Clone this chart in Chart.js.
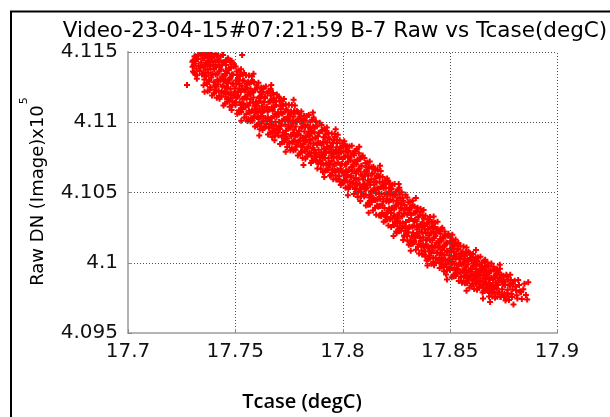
<!DOCTYPE html>
<html>
<head>
<meta charset="utf-8">
<script src="https://cdn.jsdelivr.net/npm/chart.js@4.4.1/dist/chart.umd.min.js"></script>
<style>
  html, body { margin: 0; padding: 0; background: #fff; }
  #wrap { width: 610px; height: 417px; position: relative; }
</style>
</head>
<body>
<div id="wrap"><canvas id="c" width="610" height="417"></canvas></div>
<script>
const chartTitle = 'Video-23-04-15#07:21:59 B-7 Raw vs Tcase(degC)';
const xTitle = 'Tcase (degC)';
const yTitle = 'Raw DN (Image)x10';
const yTitleExp = '5';
const xTicks = [17.7, 17.75, 17.8, 17.85, 17.9];
const yTicks = [4.095, 4.1, 4.105, 4.11, 4.115];

// Case temperature (degC) of each frame
const tcase = [
  17.7275, 17.7301, 17.7304, 17.7308, 17.7312, 17.7315, 17.7319, 17.7322, 17.7326, 17.7330, 17.7334, 17.7337, 17.7341, 17.7345, 17.7348,
  17.7351, 17.7353, 17.7355, 17.7356, 17.7358, 17.7361, 17.7363, 17.7364, 17.7366, 17.7369, 17.7371, 17.7372, 17.7374, 17.7377, 17.7379, 17.7381, 17.7383, 17.7385, 17.7388, 17.7391, 17.7394, 17.7397,
  17.7400, 17.7402, 17.7404, 17.7407, 17.7409, 17.7410, 17.7412, 17.7415, 17.7417, 17.7418, 17.7420, 17.7423, 17.7425, 17.7426, 17.7428, 17.7430, 17.7434, 17.7436, 17.7439, 17.7442, 17.7445, 17.7448,
  17.7451, 17.7452, 17.7455, 17.7457, 17.7459, 17.7462, 17.7463, 17.7466, 17.7468, 17.7470, 17.7472, 17.7474, 17.7477, 17.7478, 17.7481, 17.7482, 17.7485, 17.7487, 17.7490, 17.7493, 17.7496, 17.7499, 17.7467, 17.7483,
  17.7500, 17.7503, 17.7504, 17.7506, 17.7508, 17.7510, 17.7514, 17.7515, 17.7517, 17.7519, 17.7521, 17.7523, 17.7526, 17.7529, 17.7530, 17.7533, 17.7536, 17.7538, 17.7541, 17.7543, 17.7545, 17.7548, 17.7532,
  17.7551, 17.7553, 17.7555, 17.7556, 17.7558, 17.7561, 17.7563, 17.7564, 17.7566, 17.7569, 17.7571, 17.7572, 17.7574, 17.7577, 17.7579, 17.7581, 17.7583, 17.7585, 17.7588, 17.7591, 17.7594, 17.7597,
  17.7600, 17.7602, 17.7604, 17.7607, 17.7609, 17.7610, 17.7612, 17.7615, 17.7617, 17.7618, 17.7620, 17.7623, 17.7625, 17.7626, 17.7628, 17.7630, 17.7634, 17.7636, 17.7639, 17.7642, 17.7645, 17.7648,
  17.7651, 17.7652, 17.7655, 17.7657, 17.7659, 17.7662, 17.7663, 17.7666, 17.7668, 17.7670, 17.7672, 17.7674, 17.7677, 17.7678, 17.7681, 17.7682, 17.7685, 17.7687, 17.7690, 17.7693, 17.7696, 17.7699,
  17.7700, 17.7703, 17.7704, 17.7706, 17.7708, 17.7710, 17.7714, 17.7715, 17.7717, 17.7719, 17.7721, 17.7723, 17.7726, 17.7729, 17.7730, 17.7733, 17.7736, 17.7738, 17.7741, 17.7743, 17.7745, 17.7748,
  17.7750, 17.7752, 17.7753, 17.7756, 17.7759, 17.7761, 17.7762, 17.7764, 17.7767, 17.7770, 17.7772, 17.7773, 17.7775, 17.7778, 17.7780, 17.7782, 17.7785, 17.7787, 17.7789, 17.7792, 17.7794, 17.7797,
  17.7801, 17.7804, 17.7805, 17.7807, 17.7808, 17.7811, 17.7813, 17.7816, 17.7818, 17.7819, 17.7822, 17.7824, 17.7826, 17.7827, 17.7830, 17.7833, 17.7834, 17.7837, 17.7840, 17.7841, 17.7845, 17.7848,
  17.7850, 17.7851, 17.7854, 17.7856, 17.7858, 17.7860, 17.7863, 17.7865, 17.7866, 17.7869, 17.7871, 17.7874, 17.7876, 17.7878, 17.7881, 17.7883, 17.7886, 17.7888, 17.7890, 17.7893, 17.7896, 17.7899,
  17.7902, 17.7903, 17.7905, 17.7908, 17.7910, 17.7911, 17.7914, 17.7916, 17.7919, 17.7920, 17.7923, 17.7925, 17.7927, 17.7929, 17.7932, 17.7934, 17.7935, 17.7938, 17.7941, 17.7944, 17.7946, 17.7948,
  17.7950, 17.7952, 17.7953, 17.7956, 17.7959, 17.7961, 17.7962, 17.7964, 17.7967, 17.7970, 17.7972, 17.7973, 17.7975, 17.7978, 17.7980, 17.7982, 17.7985, 17.7987, 17.7989, 17.7992, 17.7994, 17.7997,
  17.8001, 17.8004, 17.8005, 17.8007, 17.8008, 17.8011, 17.8013, 17.8016, 17.8018, 17.8019, 17.8022, 17.8024, 17.8026, 17.8027, 17.8030, 17.8033, 17.8034, 17.8037, 17.8040, 17.8041, 17.8045, 17.8048,
  17.8050, 17.8051, 17.8054, 17.8056, 17.8058, 17.8060, 17.8063, 17.8065, 17.8066, 17.8069, 17.8071, 17.8074, 17.8076, 17.8078, 17.8081, 17.8083, 17.8086, 17.8088, 17.8090, 17.8093, 17.8096, 17.8099,
  17.8102, 17.8103, 17.8105, 17.8108, 17.8110, 17.8111, 17.8114, 17.8116, 17.8119, 17.8120, 17.8123, 17.8125, 17.8127, 17.8129, 17.8132, 17.8134, 17.8135, 17.8138, 17.8141, 17.8144, 17.8146, 17.8148,
  17.8150, 17.8152, 17.8153, 17.8156, 17.8159, 17.8161, 17.8162, 17.8164, 17.8167, 17.8170, 17.8172, 17.8173, 17.8175, 17.8178, 17.8180, 17.8182, 17.8185, 17.8187, 17.8189, 17.8192, 17.8194, 17.8197,
  17.8201, 17.8204, 17.8205, 17.8207, 17.8208, 17.8211, 17.8213, 17.8216, 17.8218, 17.8219, 17.8222, 17.8224, 17.8226, 17.8227, 17.8230, 17.8233, 17.8234, 17.8237, 17.8240, 17.8241, 17.8245, 17.8248,
  17.8250, 17.8251, 17.8254, 17.8256, 17.8258, 17.8260, 17.8263, 17.8265, 17.8266, 17.8269, 17.8271, 17.8274, 17.8276, 17.8278, 17.8281, 17.8283, 17.8286, 17.8288, 17.8290, 17.8293, 17.8296, 17.8299,
  17.8302, 17.8303, 17.8305, 17.8308, 17.8310, 17.8311, 17.8314, 17.8316, 17.8319, 17.8320, 17.8323, 17.8325, 17.8327, 17.8329, 17.8332, 17.8334, 17.8335, 17.8338, 17.8341, 17.8344, 17.8346, 17.8348,
  17.8350, 17.8353, 17.8354, 17.8356, 17.8358, 17.8360, 17.8364, 17.8365, 17.8367, 17.8369, 17.8371, 17.8373, 17.8376, 17.8379, 17.8380, 17.8383, 17.8386, 17.8388, 17.8391, 17.8393, 17.8395, 17.8398,
  17.8401, 17.8403, 17.8405, 17.8406, 17.8408, 17.8411, 17.8413, 17.8414, 17.8416, 17.8419, 17.8421, 17.8422, 17.8424, 17.8427, 17.8429, 17.8431, 17.8433, 17.8435, 17.8438, 17.8441, 17.8444, 17.8447,
  17.8450, 17.8452, 17.8454, 17.8457, 17.8459, 17.8460, 17.8462, 17.8465, 17.8467, 17.8468, 17.8470, 17.8473, 17.8475, 17.8476, 17.8478, 17.8480, 17.8484, 17.8486, 17.8489, 17.8492, 17.8495, 17.8498,
  17.8501, 17.8502, 17.8505, 17.8507, 17.8509, 17.8512, 17.8513, 17.8516, 17.8518, 17.8520, 17.8522, 17.8524, 17.8527, 17.8528, 17.8531, 17.8532, 17.8535, 17.8537, 17.8540, 17.8543, 17.8546, 17.8549,
  17.8550, 17.8553, 17.8554, 17.8556, 17.8558, 17.8560, 17.8564, 17.8565, 17.8567, 17.8569, 17.8571, 17.8573, 17.8576, 17.8579, 17.8580, 17.8583, 17.8586, 17.8588, 17.8591, 17.8593, 17.8595, 17.8598,
  17.8600, 17.8602, 17.8603, 17.8606, 17.8609, 17.8611, 17.8612, 17.8614, 17.8617, 17.8620, 17.8622, 17.8623, 17.8625, 17.8628, 17.8630, 17.8632, 17.8635, 17.8637, 17.8639, 17.8642, 17.8644, 17.8647,
  17.8651, 17.8654, 17.8655, 17.8657, 17.8658, 17.8661, 17.8663, 17.8666, 17.8668, 17.8669, 17.8672, 17.8674, 17.8676, 17.8677, 17.8680, 17.8683, 17.8684, 17.8687, 17.8690, 17.8691, 17.8695, 17.8698,
  17.8700, 17.8702, 17.8704, 17.8707, 17.8709, 17.8712, 17.8714, 17.8717, 17.8719, 17.8722, 17.8725, 17.8727, 17.8730, 17.8733, 17.8736, 17.8740, 17.8744, 17.8748,
  17.8751, 17.8755, 17.8758, 17.8762, 17.8766, 17.8770, 17.8774, 17.8778, 17.8782, 17.8787, 17.8792, 17.8797,
  17.8806, 17.8812, 17.8819, 17.8827, 17.8836, 17.8848, 17.8861, 17.8866, 17.8688,
  // second acquisition pass
  17.7300, 17.7303, 17.7306, 17.7310, 17.7314, 17.7317, 17.7321, 17.7328, 17.7339, 17.7346,
  17.7350, 17.7352, 17.7354, 17.7357, 17.7360, 17.7362, 17.7364, 17.7367, 17.7369, 17.7371, 17.7374, 17.7376, 17.7378, 17.7381, 17.7383, 17.7385, 17.7387, 17.7390, 17.7392, 17.7394,
  17.7401, 17.7403, 17.7406, 17.7408, 17.7409, 17.7411, 17.7414, 17.7416, 17.7418, 17.7421, 17.7423, 17.7424, 17.7427, 17.7429, 17.7431, 17.7432, 17.7435, 17.7438, 17.7440, 17.7443, 17.7445, 17.7447,
  17.7450, 17.7453, 17.7455, 17.7456, 17.7459, 17.7461, 17.7463, 17.7465, 17.7468, 17.7470, 17.7473, 17.7475, 17.7476, 17.7479, 17.7480, 17.7483, 17.7486, 17.7487, 17.7489, 17.7492, 17.7494, 17.7497,
  17.7501, 17.7502, 17.7504, 17.7507, 17.7509, 17.7512, 17.7513, 17.7516, 17.7519, 17.7520, 17.7522, 17.7525, 17.7527, 17.7528, 17.7531, 17.7534, 17.7535, 17.7537, 17.7540, 17.7542, 17.7546, 17.7548,
  17.7550, 17.7552, 17.7554, 17.7557, 17.7560, 17.7562, 17.7564, 17.7567, 17.7569, 17.7571, 17.7574, 17.7576, 17.7578, 17.7581, 17.7583, 17.7585, 17.7587, 17.7590, 17.7592, 17.7594, 17.7596, 17.7599,
  17.7601, 17.7603, 17.7606, 17.7608, 17.7609, 17.7611, 17.7614, 17.7616, 17.7618, 17.7621, 17.7623, 17.7624, 17.7627, 17.7629, 17.7631, 17.7632, 17.7635, 17.7638, 17.7640, 17.7643, 17.7645, 17.7647,
  17.7650, 17.7653, 17.7655, 17.7656, 17.7659, 17.7661, 17.7663, 17.7665, 17.7668, 17.7670, 17.7673, 17.7675, 17.7676, 17.7679, 17.7680, 17.7683, 17.7686, 17.7687, 17.7689, 17.7692, 17.7694, 17.7697,
  17.7701, 17.7702, 17.7704, 17.7707, 17.7709, 17.7712, 17.7713, 17.7716, 17.7719, 17.7720, 17.7722, 17.7725, 17.7727, 17.7728, 17.7731, 17.7734, 17.7735, 17.7737, 17.7740, 17.7742, 17.7746, 17.7748,
  17.7750, 17.7752, 17.7754, 17.7757, 17.7760, 17.7762, 17.7764, 17.7767, 17.7769, 17.7771, 17.7774, 17.7776, 17.7778, 17.7781, 17.7783, 17.7785, 17.7787, 17.7790, 17.7792, 17.7794, 17.7796, 17.7799,
  17.7801, 17.7803, 17.7806, 17.7808, 17.7809, 17.7811, 17.7814, 17.7816, 17.7818, 17.7821, 17.7823, 17.7824, 17.7827, 17.7829, 17.7831, 17.7832, 17.7835, 17.7838, 17.7840, 17.7843, 17.7845, 17.7847,
  17.7850, 17.7853, 17.7855, 17.7856, 17.7859, 17.7861, 17.7863, 17.7865, 17.7868, 17.7870, 17.7873, 17.7875, 17.7876, 17.7879, 17.7880, 17.7883, 17.7886, 17.7887, 17.7889, 17.7892, 17.7894, 17.7897,
  17.7901, 17.7902, 17.7904, 17.7907, 17.7909, 17.7912, 17.7913, 17.7916, 17.7919, 17.7920, 17.7922, 17.7925, 17.7927, 17.7928, 17.7931, 17.7934, 17.7935, 17.7937, 17.7940, 17.7942, 17.7946, 17.7948,
  17.7950, 17.7952, 17.7954, 17.7957, 17.7960, 17.7962, 17.7964, 17.7967, 17.7969, 17.7971, 17.7974, 17.7976, 17.7978, 17.7981, 17.7983, 17.7985, 17.7987, 17.7990, 17.7992, 17.7994, 17.7996, 17.7999,
  17.8001, 17.8003, 17.8006, 17.8008, 17.8009, 17.8011, 17.8014, 17.8016, 17.8018, 17.8021, 17.8023, 17.8024, 17.8027, 17.8029, 17.8031, 17.8032, 17.8035, 17.8038, 17.8040, 17.8043, 17.8045, 17.8047,
  17.8050, 17.8053, 17.8055, 17.8056, 17.8059, 17.8061, 17.8063, 17.8065, 17.8068, 17.8070, 17.8073, 17.8075, 17.8076, 17.8079, 17.8080, 17.8083, 17.8086, 17.8087, 17.8089, 17.8092, 17.8094, 17.8097,
  17.8101, 17.8102, 17.8104, 17.8107, 17.8109, 17.8112, 17.8113, 17.8116, 17.8119, 17.8120, 17.8122, 17.8125, 17.8127, 17.8128, 17.8131, 17.8134, 17.8135, 17.8137, 17.8140, 17.8142, 17.8146, 17.8148,
  17.8150, 17.8152, 17.8154, 17.8157, 17.8160, 17.8162, 17.8164, 17.8167, 17.8169, 17.8171, 17.8174, 17.8176, 17.8178, 17.8181, 17.8183, 17.8185, 17.8187, 17.8190, 17.8192, 17.8194, 17.8196, 17.8199,
  17.8201, 17.8203, 17.8206, 17.8208, 17.8209, 17.8211, 17.8214, 17.8216, 17.8218, 17.8221, 17.8223, 17.8224, 17.8227, 17.8229, 17.8231, 17.8232, 17.8235, 17.8238, 17.8240, 17.8243, 17.8245, 17.8247,
  17.8250, 17.8253, 17.8255, 17.8256, 17.8259, 17.8261, 17.8263, 17.8265, 17.8268, 17.8270, 17.8273, 17.8275, 17.8276, 17.8279, 17.8280, 17.8283, 17.8286, 17.8287, 17.8289, 17.8292, 17.8294, 17.8297,
  17.8301, 17.8302, 17.8304, 17.8307, 17.8309, 17.8312, 17.8313, 17.8316, 17.8319, 17.8320, 17.8322, 17.8325, 17.8327, 17.8328, 17.8331, 17.8334, 17.8335, 17.8337, 17.8340, 17.8342, 17.8346, 17.8348,
  17.8350, 17.8352, 17.8354, 17.8357, 17.8360, 17.8362, 17.8364, 17.8367, 17.8369, 17.8371, 17.8374, 17.8376, 17.8378, 17.8381, 17.8383, 17.8385, 17.8387, 17.8390, 17.8392, 17.8394, 17.8396, 17.8399,
  17.8401, 17.8403, 17.8406, 17.8408, 17.8409, 17.8411, 17.8414, 17.8416, 17.8418, 17.8421, 17.8423, 17.8424, 17.8427, 17.8429, 17.8431, 17.8432, 17.8435, 17.8438, 17.8440, 17.8443, 17.8445, 17.8447,
  17.8450, 17.8453, 17.8455, 17.8456, 17.8459, 17.8461, 17.8463, 17.8465, 17.8468, 17.8470, 17.8473, 17.8475, 17.8476, 17.8479, 17.8480, 17.8483, 17.8486, 17.8487, 17.8489, 17.8492, 17.8494, 17.8497,
  17.8501, 17.8502, 17.8504, 17.8507, 17.8509, 17.8512, 17.8513, 17.8516, 17.8519, 17.8520, 17.8522, 17.8525, 17.8527, 17.8528, 17.8531, 17.8534, 17.8535, 17.8537, 17.8540, 17.8542, 17.8546, 17.8548,
  17.8550, 17.8552, 17.8554, 17.8557, 17.8560, 17.8562, 17.8564, 17.8567, 17.8569, 17.8571, 17.8574, 17.8576, 17.8578, 17.8581, 17.8583, 17.8585, 17.8587, 17.8590, 17.8592, 17.8594, 17.8596, 17.8599,
  17.8601, 17.8603, 17.8606, 17.8608, 17.8609, 17.8611, 17.8614, 17.8616, 17.8618, 17.8621, 17.8623, 17.8624, 17.8627, 17.8629, 17.8631, 17.8632, 17.8635, 17.8638, 17.8640, 17.8643, 17.8645, 17.8647,
  17.8650, 17.8653, 17.8655, 17.8656, 17.8659, 17.8661, 17.8663, 17.8665, 17.8668, 17.8670, 17.8673, 17.8675, 17.8676, 17.8679, 17.8680, 17.8683, 17.8686, 17.8687, 17.8689, 17.8692, 17.8694, 17.8697,
  17.8701, 17.8704, 17.8706, 17.8709, 17.8711, 17.8714, 17.8716, 17.8719, 17.8722, 17.8724, 17.8728, 17.8731, 17.8734, 17.8738, 17.8742, 17.8746,
  17.8750, 17.8753, 17.8757, 17.8760, 17.8764, 17.8768, 17.8772, 17.8776, 17.8781, 17.8785, 17.8790, 17.8795,
  17.8803, 17.8809, 17.8815, 17.8823, 17.8832, 17.8843, 17.8855,
  // scattered frames along the edges of the band
  17.7445, 17.7528, 17.7585, 17.7612, 17.7668, 17.7735, 17.7772, 17.7818, 17.7862, 17.7915, 17.7968, 17.8025, 17.8078, 17.8122,
  17.8175, 17.8238, 17.8262, 17.8318, 17.8342, 17.8396, 17.8425, 17.8487, 17.8512, 17.8578, 17.8622, 17.8733, 17.8655
];

// Raw detector counts (DN) of each frame, same order as tcase
const rawDN = [
  411265, 411395, 411440, 411352, 411418, 411470, 411380, 411335, 411450, 411402, 411365, 411485, 411425, 411340, 411455,
  411399, 411352, 411456, 411304, 411408, 411376, 411488, 411326, 411423, 411273, 411377, 411436, 411353, 411459, 411300, 411401, 411247, 411381, 411319, 411437, 411347, 411407,
  411285, 411378, 411233, 411431, 411340, 411392, 411252, 411473, 411303, 411345, 411271, 411432, 411187, 411363, 411394, 411302, 411376, 411217, 411328, 411261, 411425, 411292,
  411344, 411213, 411301, 411407, 411251, 411166, 411350, 411279, 411370, 411204, 411302, 411111, 411318, 411238, 411393, 411204, 411340, 411148, 411270, 411396, 411205, 411241, 411452, 411438,
  411218, 411297, 411141, 411271, 411336, 411179, 411217, 411301, 411086, 411241, 411142, 411340, 411215, 411096, 411259, 411168, 411298, 411133, 411350, 411175, 411224, 411107, 411478,
  411247, 411167, 411274, 411123, 411196, 411023, 411212, 411082, 411277, 411139, 411238, 411164, 411029, 411210, 411086, 411291, 411141, 411176, 411041, 411228, 411092, 411145,
  411120, 411248, 411078, 411139, 411023, 411177, 411097, 411184, 411149, 410971, 411211, 411044, 411114, 411070, 411236, 411008, 411142, 411087, 411173, 410968, 411108, 411010,
  411077, 411036, 411221, 411089, 410961, 411147, 411006, 411191, 411031, 411107, 410895, 411081, 410978, 411141, 411043, 411110, 410921, 411001, 411151, 411040, 410945, 411072,
  410945, 411056, 411003, 411174, 410952, 411113, 410975, 411062, 410896, 411010, 411129, 410927, 411021, 410861, 411073, 410984, 410939, 411092, 411022, 410887, 411040, 410955,
  411008, 410855, 411043, 410960, 411068, 410903, 410977, 410815, 411015, 410925, 411041, 410868, 410947, 411070, 410898, 410969, 410841, 411002, 410919, 411073, 410860, 410937,
  410872, 411017, 410906, 410791, 410960, 410989, 410824, 410888, 411024, 410846, 410934, 410796, 410967, 410859, 410901, 411044, 410814, 410907, 410770, 410933, 410874, 410961,
  410955, 410848, 410779, 410922, 410726, 410882, 410970, 410805, 410848, 410928, 410756, 410889, 410783, 410976, 410840, 410719, 410900, 410804, 410926, 410753, 410853, 410669,
  410786, 410837, 410937, 410742, 410860, 410697, 410809, 410894, 410746, 410940, 410781, 410704, 410824, 410855, 410660, 410889, 410743, 410791, 410698, 410831, 410625, 410807,
  410725, 410780, 410665, 410851, 410752, 410788, 410690, 410895, 410621, 410803, 410822, 410748, 410852, 410714, 410778, 410647, 410751, 410579, 410822, 410669, 410785, 410703,
  410739, 410640, 410793, 410589, 410753, 410697, 410834, 410606, 410703, 410659, 410791, 410624, 410721, 410543, 410659, 410745, 410576, 410729, 410619, 410682, 410651, 410777,
  410570, 410699, 410765, 410654, 410525, 410604, 410636, 410701, 410562, 410722, 410468, 410652, 410593, 410669, 410557, 410742, 410500, 410688, 410751, 410617, 410595, 410551,
  410647, 410564, 410621, 410484, 410526, 410680, 410648, 410560, 410585, 410427, 410683, 410480, 410440, 410553, 410509, 410594, 410476, 410635, 410515, 410683, 410446, 410557,
  410529, 410446, 410656, 410495, 410571, 410406, 410529, 410453, 410619, 410489, 410405, 410576, 410455, 410538, 410332, 410489, 410410, 410570, 410456, 410532, 410340, 410487,
  410533, 410438, 410492, 410325, 410458, 410358, 410584, 410434, 410386, 410491, 410314, 410447, 410354, 410529, 410387, 410316, 410477, 410441, 410267, 410379, 410483, 410331,
  410223, 410403, 410295, 410463, 410336, 410427, 410239, 410355, 410487, 410287, 410389, 410248, 410416, 410330, 410282, 410442, 410347, 410186, 410377, 410228, 410290, 410391,
  410342, 410157, 410357, 410217, 410304, 410252, 410392, 410158, 410346, 410312, 410186, 410257, 410410, 410213, 410353, 410263, 410146, 410304, 410180, 410368, 410262, 410208,
  410254, 410193, 410325, 410132, 410261, 410221, 410363, 410155, 410274, 410087, 410217, 410287, 410182, 410313, 410114, 410239, 410044, 410211, 410132, 410279, 410167, 410241,
  410104, 410196, 410051, 410251, 410160, 410209, 410069, 410292, 410122, 410161, 410087, 410249, 410005, 410178, 410208, 410116, 410191, 410033, 410143, 410075, 410240, 410106,
  410152, 410033, 410113, 410207, 410067, 409992, 410156, 410091, 410174, 410025, 410112, 409939, 410126, 410055, 410194, 410023, 410144, 409970, 410080, 410193, 410020, 410052,
  410030, 410099, 409964, 410075, 410130, 409995, 410029, 410099, 409916, 410048, 409963, 410131, 410025, 409926, 410062, 409986, 410097, 409957, 410140, 409990, 410031, 409931,
  410024, 409901, 410051, 409985, 410072, 409939, 409996, 409867, 410028, 409956, 410048, 409909, 409971, 410068, 409931, 409987, 409884, 410013, 409945, 410069, 409898, 409959,
  409911, 410020, 409937, 409850, 409974, 409997, 409874, 409922, 410024, 409888, 409955, 409852, 409980, 409897, 409929, 410037, 409863, 409933, 409831, 409952, 409909, 409974,
  409965, 409886, 409838, 409941, 409800, 409912, 409976, 409856, 409886, 409946, 409820, 409917, 409840, 409980, 409882, 409794, 409926, 409856, 409944, 409820, 409891, 409759,
  409844, 409880, 409950, 409814, 409896, 409781, 409860, 409920, 409817, 409952, 409841, 409788, 409871, 409892, 409756, 409915, 409812, 409845,
  409877, 409780, 409842, 409743, 409901, 409807, 409759, 409847, 409915, 409777, 409809, 409702,
  409830, 409768, 409878, 409795, 409742, 409851, 409738, 409862, 409721,
  // second acquisition pass
  411430, 411362, 411405, 411468, 411338, 411447, 411310, 411478, 411392, 411490,
  411482, 411264, 411475, 411217, 411489, 411330, 411470, 411280, 411412, 411220, 411494, 411292, 411478, 411228, 411431, 411250, 411486, 411334, 411191, 411455,
  411206, 411470, 411262, 411488, 411217, 411397, 411175, 411439, 411295, 411472, 411222, 411407, 411167, 411439, 411303, 411470, 411184, 411405, 411253, 411478, 411209, 411329,
  411428, 411134, 411364, 411181, 411441, 411239, 411146, 411456, 411202, 411382, 411152, 411310, 411427, 411173, 411388, 411088, 411275, 411122, 411339, 411188, 411413, 411140,
  411121, 411396, 411174, 411362, 411060, 411309, 411190, 411368, 411069, 411276, 411330, 411122, 411378, 411073, 411236, 411093, 411339, 411127, 411296, 411034, 411237, 411179,
  411335, 411058, 411269, 411009, 411286, 411120, 411332, 411068, 411199, 411007, 411287, 411076, 411326, 411011, 411213, 411031, 411286, 411113, 410969, 411233, 411068, 411263,
  410981, 411245, 411038, 411282, 410993, 411172, 410950, 411215, 411071, 411248, 410998, 411183, 410944, 411216, 411079, 411246, 410961, 411182, 411030, 411255, 410987, 411107,
  411206, 410913, 411143, 410960, 411221, 411018, 410926, 411236, 410983, 411163, 410934, 411092, 411209, 410956, 411170, 410871, 411058, 410905, 411123, 410972, 411198, 410925,
  410906, 411181, 410959, 411148, 410846, 411095, 410976, 411155, 410856, 411063, 411117, 410910, 411166, 410861, 411024, 410881, 411128, 410916, 411085, 410823, 411027, 410969,
  411125, 410848, 411059, 410800, 411077, 410911, 411123, 410860, 410991, 410799, 411079, 410869, 411119, 410804, 411006, 410825, 411080, 410907, 410763, 411027, 410863, 411058,
  410776, 411040, 410833, 411077, 410788, 410968, 410746, 411011, 410867, 411044, 410794, 410979, 410740, 411012, 410876, 411043, 410758, 410979, 410827, 411052, 410784, 410904,
  411003, 410710, 410940, 410757, 411018, 410816, 410724, 411034, 410781, 410961, 410732, 410890, 411007, 410754, 410969, 410670, 410857, 410704, 410922, 410771, 410997, 410724,
  410706, 410981, 410759, 410947, 410645, 410894, 410775, 410953, 410654, 410861, 410915, 410707, 410963, 410658, 410821, 410678, 410924, 410712, 410881, 410619, 410822, 410764,
  410920, 410643, 410854, 410594, 410871, 410705, 410917, 410653, 410784, 410592, 410872, 410661, 410911, 410596, 410798, 410616, 410871, 410698, 410554, 410818, 410653, 410848,
  410566, 410829, 410622, 410865, 410576, 410756, 410533, 410798, 410653, 410830, 410579, 410764, 410525, 410796, 410660, 410827, 410541, 410761, 410609, 410833, 410565, 410685,
  410783, 410489, 410718, 410535, 410795, 410593, 410500, 410809, 410556, 410735, 410505, 410662, 410779, 410525, 410740, 410440, 410626, 410473, 410690, 410538, 410764, 410490,
  410471, 410745, 410522, 410710, 410407, 410655, 410536, 410714, 410413, 410620, 410673, 410465, 410720, 410415, 410577, 410432, 410679, 410466, 410634, 410371, 410574, 410515,
  410670, 410392, 410602, 410342, 410618, 410451, 410662, 410398, 410528, 410336, 410614, 410404, 410653, 410337, 410538, 410356, 410610, 410436, 410291, 410554, 410390, 410583,
  410301, 410564, 410356, 410599, 410309, 410489, 410265, 410530, 410385, 410561, 410310, 410494, 410254, 410525, 410389, 410555, 410269, 410489, 410336, 410560, 410291, 410410,
  410508, 410214, 410443, 410260, 410519, 410317, 410224, 410533, 410279, 410458, 410228, 410385, 410502, 410247, 410462, 410162, 410348, 410194, 410411, 410259, 410484, 410210,
  410191, 410465, 410243, 410430, 410128, 410376, 410256, 410434, 410134, 410341, 410394, 410186, 410441, 410136, 410298, 410154, 410400, 410188, 410356, 410093, 410295, 410237,
  410392, 410114, 410325, 410065, 410341, 410174, 410385, 410121, 410252, 410059, 410338, 410127, 410376, 410060, 410262, 410080, 410334, 410160, 410016, 410279, 410114, 410308,
  410026, 410289, 410081, 410325, 410036, 410215, 409992, 410257, 410112, 410289, 410038, 410223, 409983, 410254, 410118, 410285, 409999, 410219, 410067, 410291, 410022, 410142,
  410227, 409962, 410169, 410004, 410238, 410055, 409972, 410250, 410022, 410182, 409975, 410117, 410222, 409993, 410187, 409916, 410083, 409945, 410141, 410004, 410206, 409960,
  409949, 410182, 409993, 410154, 409896, 410108, 410005, 410157, 409902, 410078, 410124, 409947, 410165, 409905, 410044, 409921, 410131, 409951, 410093, 409870, 410043, 409993,
  410118, 409896, 410064, 409857, 410078, 409944, 410115, 409904, 410008, 409854, 410077, 409909, 410109, 409856, 410017, 409872, 410076, 409938, 409822, 410033, 409901, 410057,
  409838, 410036, 409880, 410063, 409846, 409982, 409814, 410014, 409905, 410037, 409850, 409989, 409808, 410013, 409910, 410036, 409822, 409987, 409872, 410042, 409840, 409931,
  410000, 409789, 409954, 409822, 410010, 409865, 409799, 410022, 409839, 409969, 409805, 409918, 410002, 409820, 409974, 409759, 409894, 409784, 409940, 409831, 409995, 409797,
  409789, 409972, 409826, 409952, 409751, 409913, 409840, 409954, 409758, 409890, 409930, 409788, 409958, 409756, 409863, 409771,
  409908, 409761, 409864, 409732, 409915, 409783, 409881, 409735, 409836, 409878, 409756, 409853,
  409872, 409805, 409746, 409842, 409790, 409812, 409770,
  // scattered frames along the edges of the band
  411120, 411010, 411345, 410905, 411265, 410790, 411160, 410695, 411070, 410610, 410950, 410480, 410825, 410355,
  410690, 410190, 410560, 410085, 410460, 409980, 410330, 409880, 410200, 409800, 410090, 409985, 409745
];

// Raw counts are plotted in units of 1e5 DN
const points = tcase.map((t, i) => ({ x: t, y: rawDN[i] / 1e5 }));

const TICK_FONT = { family: 'DejaVu Sans', size: 20 };

const decorations = {
  id: 'decorations',
  afterDatasetsDraw(chart) {
    const ctx = chart.ctx;
    const area = chart.chartArea;
    const xs = chart.scales.x, ys = chart.scales.y;
    ctx.save();

    // dotted grid, drawn over the markers
    ctx.strokeStyle = '#505050';
    ctx.lineWidth = 1;
    ctx.setLineDash([1, 2]);
    ctx.beginPath();
    xTicks.forEach(v => {
      const px = Math.round(xs.getPixelForValue(v)) + 0.5;
      if (v === xTicks[0]) return;
      ctx.moveTo(px, area.bottom);
      ctx.lineTo(px, area.top);
    });
    yTicks.forEach(v => {
      const py = Math.round(ys.getPixelForValue(v)) + 0.5;
      if (v === yTicks[0]) return;
      ctx.moveTo(area.left, py);
      ctx.lineTo(area.right, py);
    });
    ctx.stroke();
    ctx.setLineDash([]);

    // inward tick marks on the bottom and left axes
    ctx.strokeStyle = '#8a8a8a';
    ctx.beginPath();
    xTicks.forEach(v => {
      const px = Math.round(xs.getPixelForValue(v)) + 0.5;
      ctx.moveTo(px, area.bottom);
      ctx.lineTo(px, area.bottom - 4);
    });
    yTicks.forEach(v => {
      const py = Math.round(ys.getPixelForValue(v)) + 0.5;
      ctx.moveTo(area.left, py);
      ctx.lineTo(area.left + 4, py);
    });
    ctx.stroke();
    ctx.restore();
  },
  afterDraw(chart) {
    const ctx = chart.ctx;
    ctx.save();

    // figure frame (top and left edges)
    ctx.strokeStyle = '#000';
    ctx.lineWidth = 2;
    ctx.beginPath();
    ctx.moveTo(11, 417);
    ctx.lineTo(11, 11.5);
    ctx.lineTo(610, 11.5);
    ctx.stroke();

    // title
    ctx.fillStyle = '#000';
    ctx.textAlign = 'center';
    ctx.textBaseline = 'alphabetic';
    ctx.font = '21.5px "DejaVu Sans"';
    ctx.fillText(chartTitle, 335, 37);

    // x axis title
    ctx.font = '600 20px "Open Sans"';
    ctx.fillText(xTitle, 302, 408);

    // y axis title with exponent
    ctx.translate(43, 192);
    ctx.rotate(-Math.PI / 2);
    ctx.textAlign = 'left';
    ctx.font = '18px "DejaVu Sans"';
    const w1 = ctx.measureText(yTitle).width;
    ctx.font = '11px "DejaVu Sans"';
    const w2 = ctx.measureText(yTitleExp).width;
    const start = -(w1 + w2) / 2;
    ctx.font = '18px "DejaVu Sans"';
    ctx.fillText(yTitle, start, 0);
    ctx.font = '11px "DejaVu Sans"';
    ctx.fillText(yTitleExp, start + w1 + 1, -16);
    ctx.restore();
  }
};

new Chart(document.getElementById('c'), {
  type: 'scatter',
  data: {
    datasets: [{
      data: points,
      pointStyle: 'cross',
      radius: 3,
      borderWidth: 2,
      borderColor: '#ff0000',
      backgroundColor: '#ff0000',
      showLine: false
    }]
  },
  options: {
    responsive: false,
    animation: false,
    devicePixelRatio: 1,
    layout: { padding: { top: 52, right: 53, left: 0, bottom: 0 } },
    plugins: { legend: { display: false }, tooltip: { enabled: false }, title: { display: false } },
    scales: {
      x: {
        type: 'linear',
        min: 17.7,
        max: 17.9,
        afterBuildTicks: s => { s.ticks = xTicks.map(v => ({ value: v })); },
        afterFit: s => { s.height = 84; },
        ticks: { font: TICK_FONT, color: '#111', padding: 7, maxRotation: 0, autoSkip: false, callback: v => String(v) },
        grid: { display: false, drawTicks: false },
        border: { display: true, color: '#b4b4b4', width: 2 }
      },
      y: {
        type: 'linear',
        min: 4.095,
        max: 4.115,
        afterBuildTicks: s => { s.ticks = yTicks.map(v => ({ value: v })); },
        afterFit: s => { s.width = 128; },
        ticks: { font: TICK_FONT, color: '#111', padding: 10, autoSkip: false, callback: v => String(v) },
        grid: { display: false, drawTicks: false },
        border: { display: true, color: '#b4b4b4', width: 2 }
      }
    }
  },
  plugins: [decorations]
});
</script>
</body>
</html>
